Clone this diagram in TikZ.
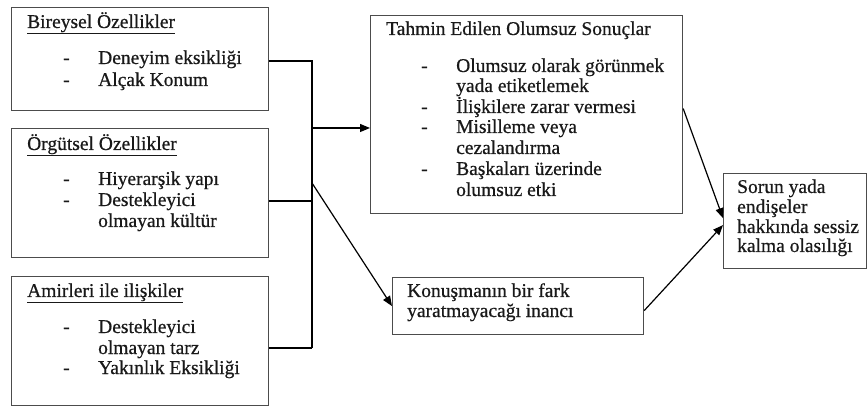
\documentclass[tikz,border=0pt]{standalone}
\usepackage{fontspec}
\setmainfont{Liberation Serif}
\newfontfamily\diafont[FakeBold=0.6]{Liberation Serif}
\usetikzlibrary{arrows.meta}
\begin{document}
\begin{tikzpicture}[x=1pt,y=-1pt,
 box/.style={draw=black!70, line width=1.2pt, inner sep=0pt, anchor=north west},
 txt/.style={anchor=base west, inner sep=0pt, font=\diafont\fontsize{19.5}{20.5}\selectfont, text=black!90},
 conn/.style={draw=black, line width=1.2pt},
 arr/.style={conn, -{Triangle[length=10pt,width=8pt]}}]
\useasboundingbox (0,0) rectangle (868,406);
% boxes
\node[box, minimum width=257pt, minimum height=103pt] (b1) at (11,7) {};
\node[box, minimum width=257pt, minimum height=129pt] (b2) at (11,128) {};
\node[box, minimum width=257pt, minimum height=129pt] (b3) at (11,276) {};
\node[box, minimum width=312pt, minimum height=198pt] (b4) at (370,15) {};
\node[box, minimum width=251pt, minimum height=57pt] (b5) at (392,277) {};
\node[box, minimum width=143pt, minimum height=95pt] (b6) at (723,173) {};
% box 1
\node[txt] (t1) at (27,28) {\underline{Bireysel Özellikler}};
\node[txt] (d11) at (63,64) {-};
\node[txt] (t11) at (98,64) {Deneyim eksikliği};
\node[txt] (d12) at (63,86) {-};
\node[txt] (t12) at (98,86) {Alçak Konum};
% box 2
\node[txt] (t2) at (27,150) {\underline{Örgütsel Özellikler}};
\node[txt] (d21) at (63,185) {-};
\node[txt] (t21) at (98,185) {Hiyerarşik yapı};
\node[txt] (d22) at (63,206) {-};
\node[txt] (t22) at (98,206) {Destekleyici};
\node[txt] (t23) at (98,227) {olmayan kültür};
% box 3
\node[txt] (t3) at (27,297) {\underline{Amirleri ile ilişkiler}};
\node[txt] (d31) at (63,333) {-};
\node[txt] (t31) at (98,333) {Destekleyici};
\node[txt] (t32) at (98,354) {olmayan tarz};
\node[txt] (d32) at (63,374) {-};
\node[txt] (t33) at (98,374) {Yakınlık Eksikliği};
% box 4
\node[txt] (t4) at (386,35) {Tahmin Edilen Olumsuz Sonuçlar};
\node[txt] (d41) at (421,72) {-};
\node[txt] (t41) at (456,72) {Olumsuz olarak görünmek};
\node[txt] (t42) at (456,92) {yada etiketlemek};
\node[txt] (d42) at (421,113) {-};
\node[txt] (t43) at (456,113) {İlişkilere zarar vermesi};
\node[txt] (d43) at (421,133) {-};
\node[txt] (t44) at (456,133) {Misilleme veya};
\node[txt] (t45) at (456,154) {cezalandırma};
\node[txt] (d44) at (421,175) {-};
\node[txt] (t46) at (456,175) {Başkaları üzerinde};
\node[txt] (t47) at (456,196) {olumsuz etki};
% box 5
\node[txt] (t51) at (407,297) {Konuşmanın bir fark};
\node[txt] (t52) at (407,317) {yaratmayacağı inancı};
% box 6
\node[txt] (t61) at (737,193) {Sorun yada};
\node[txt] (t62) at (737,213) {endişeler};
\node[txt] (t63) at (737,233) {hakkında sessiz};
\node[txt] (t64) at (737,252) {kalma olasılığı};
% connectors
\coordinate (j1) at (312,61);
\coordinate (j2) at (312,201);
\coordinate (j3) at (312,348);
\coordinate (ja) at (312,128);
\coordinate (jb) at (312,183);
\draw[conn] (b1.east |- j1) -- (j1) -- (j3);
\draw[conn] (b2.east |- j2) -- (j2);
\draw[conn] (b3.east |- j3) -- (j3);
\draw[arr] (ja) -- (b4.west |- ja);
\draw[arr] (jb) -- (b5.west);
\draw[arr] ([yshift=6pt]b4.east) -- ([yshift=3pt]b6.west);
\draw[arr] ([yshift=-4.5pt]b5.east) -- ([yshift=-4pt]b6.west);
\end{tikzpicture}
\end{document}
